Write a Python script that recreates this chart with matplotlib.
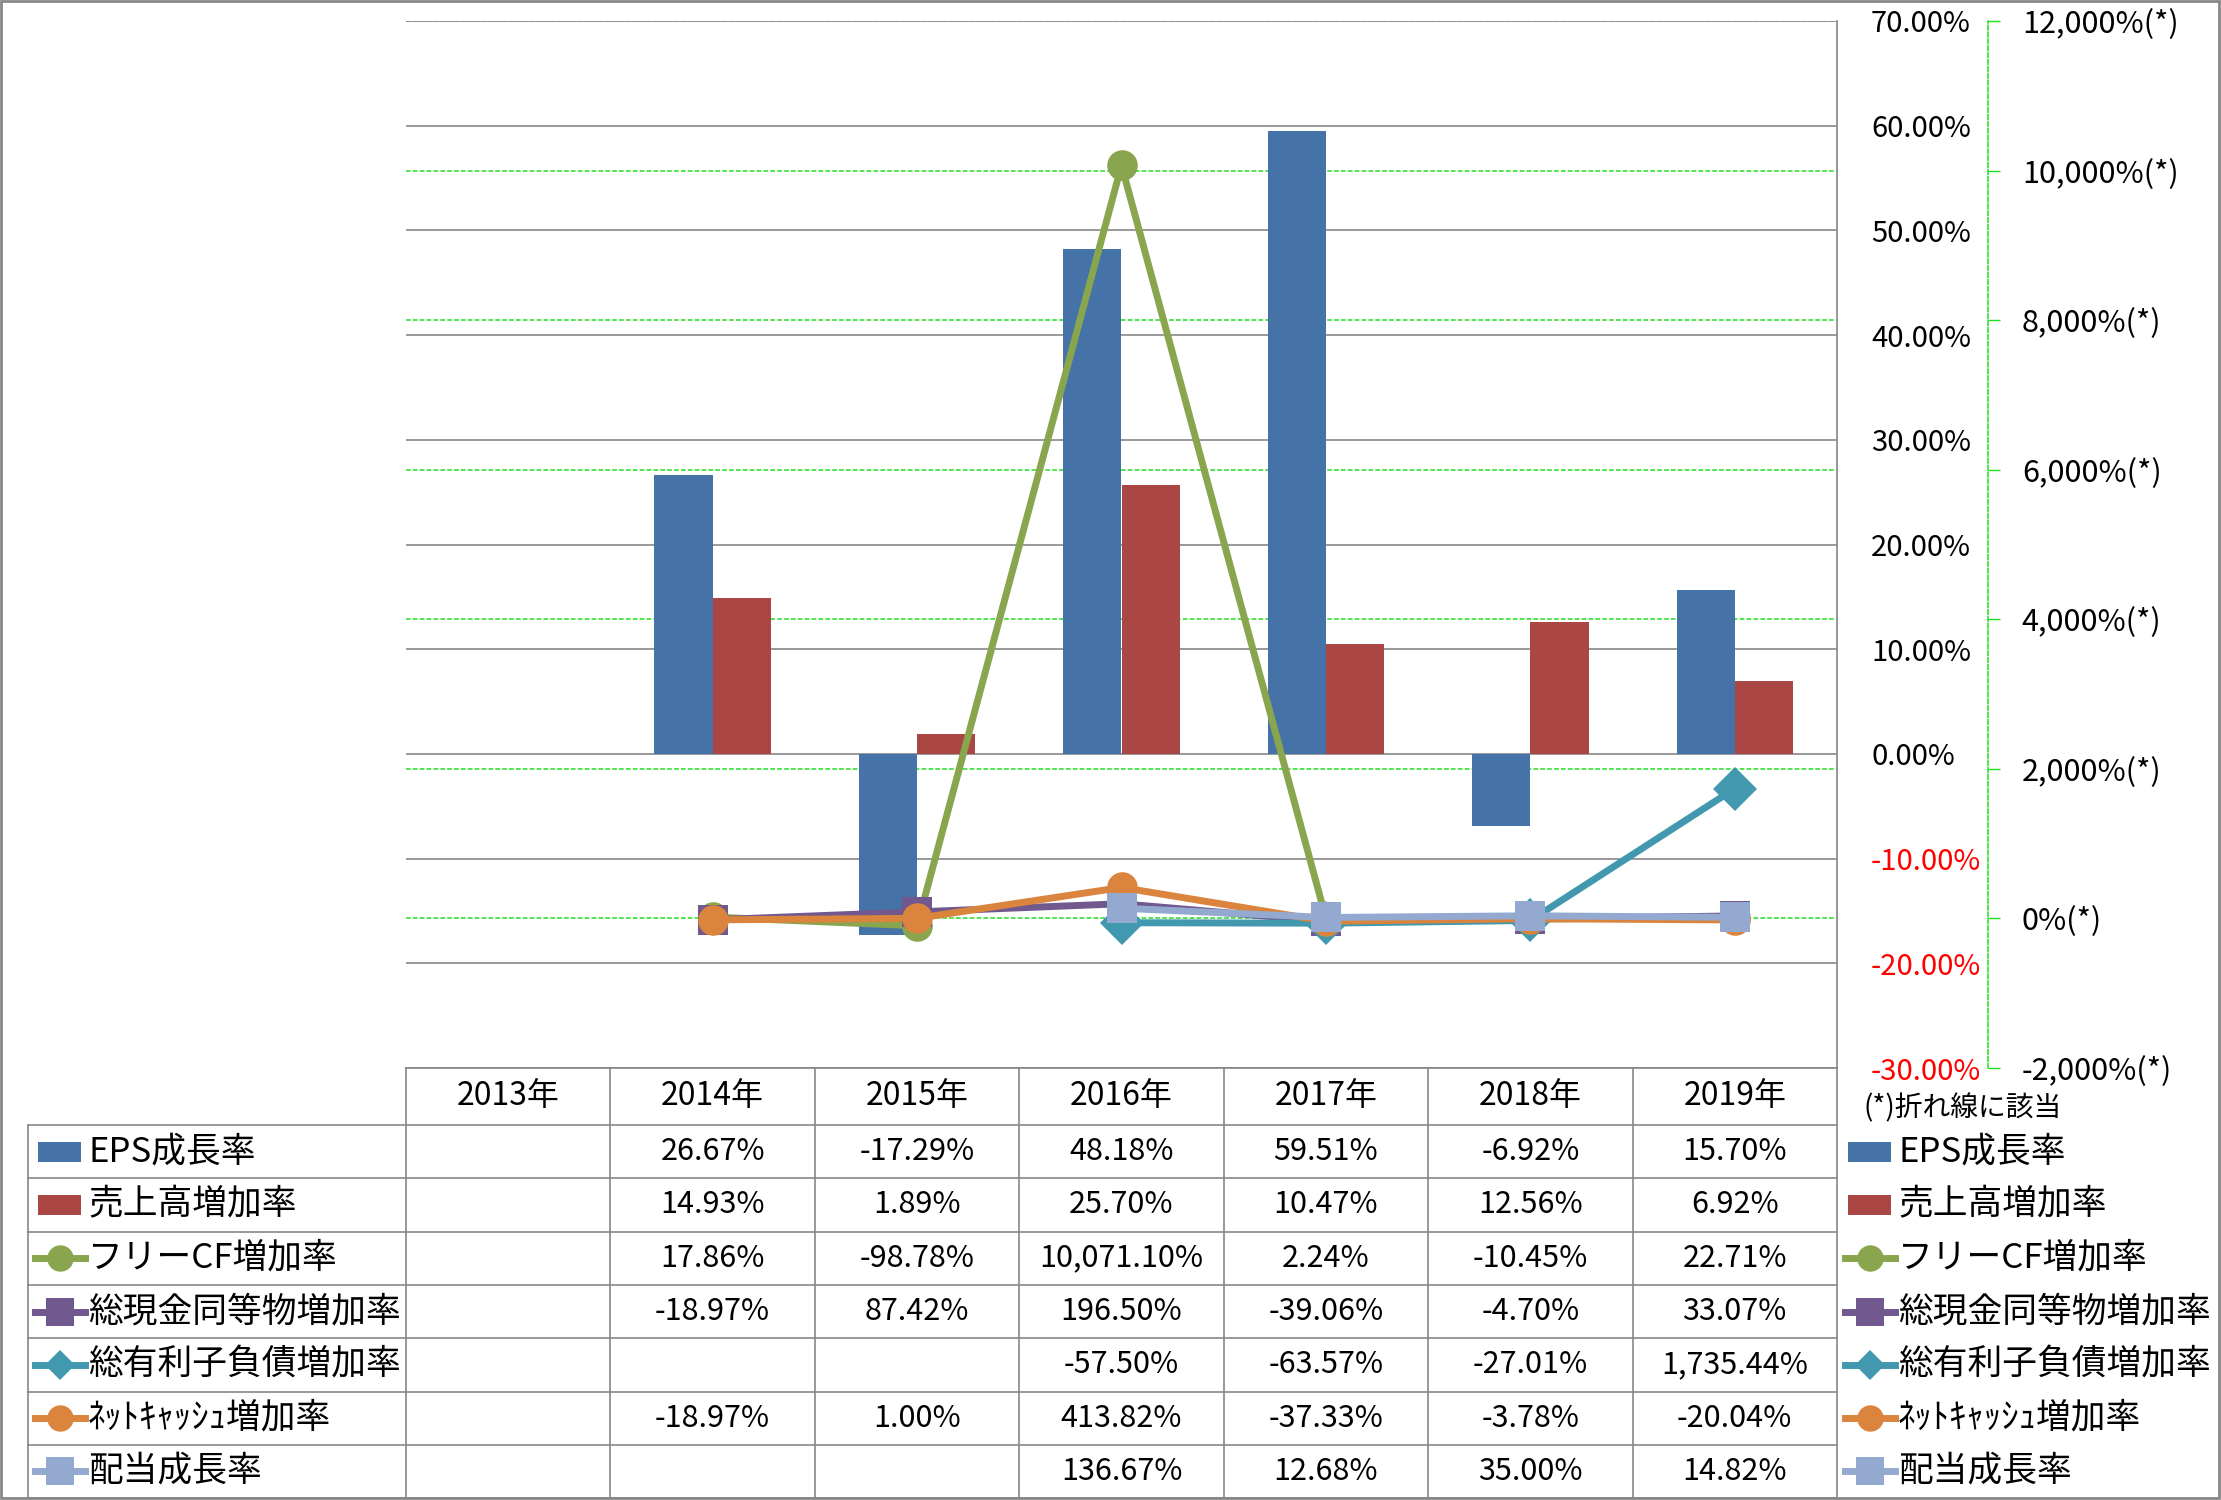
import numpy as np
import matplotlib
matplotlib.use("Agg")
import matplotlib.pyplot as plt
from matplotlib.patches import Rectangle

plt.rcParams['font.family'] = ['Noto Sans CJK JP', 'DejaVu Sans']

#--------------------------------------------#
                #DATA
#--------------------------------------------#

nan = np.nan
years = ['2013年', '2014年', '2015年', '2016年', '2017年', '2018年', '2019年']

eps = [nan, 26.67, -17.29, 48.18, 59.51, -6.92, 15.70]
sales = [nan, 14.93, 1.89, 25.70, 10.47, 12.56, 6.92]
fcf = [nan, 17.86, -98.78, 10071.10, 2.24, -10.45, 22.71]
cash = [nan, -18.97, 87.42, 196.50, -39.06, -4.70, 33.07]
debt = [nan, nan, nan, -57.50, -63.57, -27.01, 1735.44]
netcash = [nan, -18.97, 1.00, 413.82, -37.33, -3.78, -20.04]
dividend = [nan, nan, nan, 136.67, 12.68, 35.00, 14.82]

names = ['EPS成長率', '売上高増加率', 'フリーCF増加率', '総現金同等物増加率',
         '総有利子負債増加率', 'ﾈｯﾄｷｬｯｼｭ増加率', '配当成長率']

prim_ticks = np.arange(-30, 71, 10)
sec_ticks = np.arange(-2000, 12001, 2000)

#--------------------------------------------#
                #STYLE
#--------------------------------------------#

c_eps = '#4572A7'
c_sales = '#AA4643'
line_cols = ['#89A54E', '#71588F', '#4198AF', '#DB843D', '#93A9CF']
line_mk = ['o', 's', 'D', 'o', 's']
grey = '#878787'
green = '#1EE01E'
dash = (0, (3, 1.5))

W, H = 2221, 1500
x0, x1, y0, y1 = 406, 1837, 21, 1068   # plot area in pixels
hdr_top, hdr_bot = 1068, 1125
row_h = 53.3
lab_left = 28

fig = plt.figure(figsize=(W / 100, H / 100), dpi=100)

ax = fig.add_axes([x0 / W, 1 - y1 / H, (x1 - x0) / W, (y1 - y0) / H])
ax.set_xlim(-0.5, 6.5)
ax.set_ylim(prim_ticks[0], prim_ticks[-1])

xs = np.arange(len(years))
bw = 0.285
ax.bar(xs - bw / 2, eps, bw, color=c_eps, zorder=3)
ax.bar(xs + bw / 2, sales, bw, color=c_sales, zorder=3)

# gridlines behind the bars (grey above green where they meet)
for v in prim_ticks:
    ax.axhline(v, color=grey, lw=1.2, zorder=0.6)
for v in sec_ticks:
    p = prim_ticks[0] + (v - sec_ticks[0]) / (sec_ticks[-1] - sec_ticks[0]) * (prim_ticks[-1] - prim_ticks[0])
    ax.axhline(p, color=green, lw=1.1, ls=dash, zorder=0.5)

ax2 = ax.twinx()
ax2.set_ylim(sec_ticks[0], sec_ticks[-1])

ax.set_xticks([])
ax.yaxis.tick_right()
ax.set_yticks(prim_ticks)
ax.set_yticklabels(['%.2f%%' % v for v in prim_ticks])
ax.tick_params(axis='y', length=0, pad=24.5, labelsize=21)
for lab, v in zip(ax.get_yticklabels(), prim_ticks):
    lab.set_color('red' if v < 0 else 'black')
for s in ax.spines.values():
    s.set_visible(False)
ax.spines['right'].set_visible(True)
ax.spines['right'].set_color(grey)
ax.spines['right'].set_linewidth(1.2)

series = [fcf, cash, debt, netcash, dividend]
for i, (vals, c, m) in enumerate(zip(series, line_cols, line_mk)):
    ax2.plot(xs, vals, color=c, lw=5, marker=m, ms=22, markeredgewidth=0,
             zorder=3 + i, solid_capstyle='round')

ax2.set_yticks(sec_ticks)
ax2.set_yticklabels(['{:,.0f}%(*)'.format(v) for v in sec_ticks])
ax2.tick_params(axis='y', direction='out', length=8.6, width=1, color=green,
                pad=15.8, labelsize=22)
for lab, v in zip(ax2.get_yticklabels(), sec_ticks):
    lab.set_color('red' if v < 0 else 'black')
for k in ['left', 'top', 'bottom']:
    ax2.spines[k].set_visible(False)
ax2.spines['right'].set_position(('outward', 108.7))
ax2.spines['right'].set_color(green)
ax2.spines['right'].set_linestyle(dash)
ax2.spines['right'].set_linewidth(1.1)

#--------------------------------------------#
                #DATA TABLE
#--------------------------------------------#

tab = fig.add_axes([0, 0, 1, 1])
tab.set_xlim(0, W)
tab.set_ylim(H, 0)
tab.axis('off')

cw = (x1 - x0) / len(years)
n_rows = len(names)
tab_bot = hdr_bot + n_rows * row_h

# horizontal lines
tab.plot([x0, x1], [hdr_top, hdr_top], color=grey, lw=1.2)
for r in range(n_rows + 1):
    yy = hdr_bot + r * row_h
    tab.plot([lab_left, x1], [yy, yy], color=grey, lw=1.2)
# vertical lines
for k in range(len(years) + 1):
    xx = x0 + k * cw
    tab.plot([xx, xx], [hdr_top, tab_bot], color=grey, lw=1.2)
tab.plot([lab_left, lab_left], [hdr_bot, tab_bot], color=grey, lw=1.2)

for k, y in enumerate(years):
    tab.text(x0 + (k + 0.5) * cw, (hdr_top + hdr_bot) / 2, y, ha='center', va='center', fontsize=23)

all_vals = [eps, sales, fcf, cash, debt, netcash, dividend]
all_cols = [c_eps, c_sales] + line_cols
all_mk = [None, None] + line_mk
key_ms = {'o': 19, 's': 20, 'D': 15}


def draw_key(xl, yc, c, m):
    if m is None:
        tab.add_patch(Rectangle((xl + 3, yc - 10), 43, 20, color=c, lw=0))
    else:
        tab.plot([xl, xl + 50], [yc, yc], color=c, lw=5)
        tab.plot([xl + 25], [yc], color=c, marker=m, ms=key_ms[m], markeredgewidth=0)


for r, (nm, vals, c, m) in enumerate(zip(names, all_vals, all_cols, all_mk)):
    yc = hdr_bot + (r + 0.5) * row_h
    draw_key(35, yc, c, m)
    tab.text(88, yc, nm, ha='left', va='center', fontsize=25)
    for k, v in enumerate(vals):
        if not np.isnan(v):
            tab.text(x0 + (k + 0.5) * cw, yc, '{:,.2f}%'.format(v), ha='center', va='center', fontsize=22)
    # legend repeated at the right
    draw_key(1845, yc, c, m)
    tab.text(1898, yc, nm, ha='left', va='center', fontsize=25)

tab.text(1863, 1108, '(*)折れ線に該当', ha='left', va='center', fontsize=20)

tab.add_patch(Rectangle((1, 1), W - 3, H - 3, fill=False, ec=grey, lw=2))

fig.savefig('out.png', dpi=100)
